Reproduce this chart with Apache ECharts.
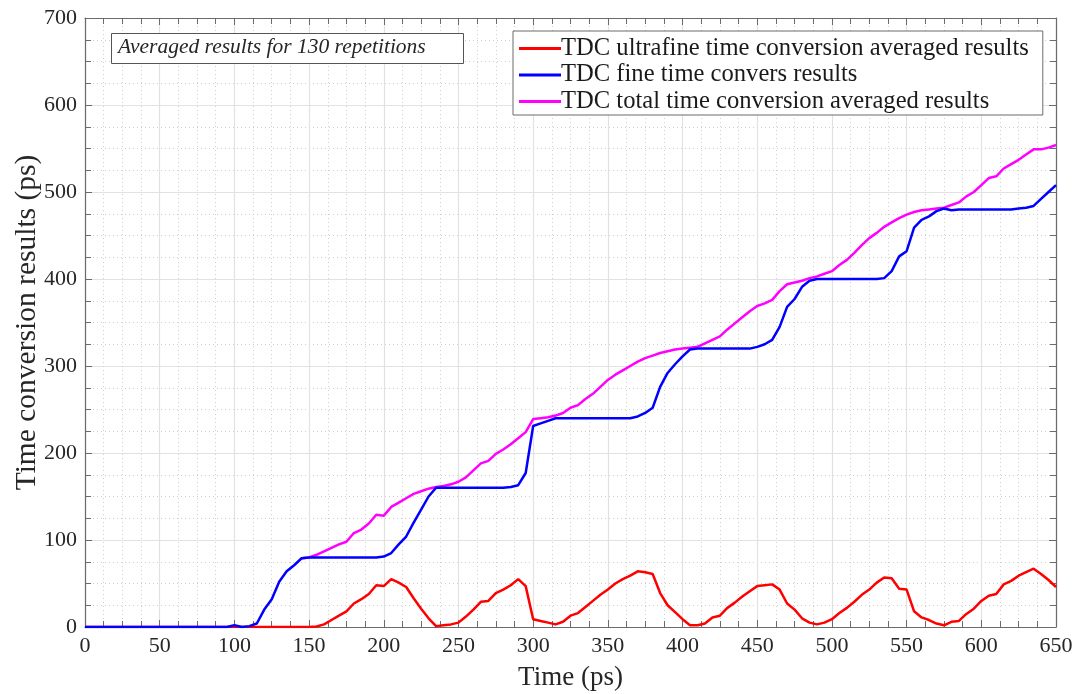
<!DOCTYPE html>
<html>
<head>
<meta charset="utf-8">
<script src="https://cdn.jsdelivr.net/npm/echarts@6/dist/echarts.min.js"></script>
<style>
  html, body { margin: 0; padding: 0; background: #fff; }
  #chart { width: 1080px; height: 694px; }
</style>
</head>
<body>
<div id="chart"></div>
<script>
// 时间采样点 (ps)
const timePs = [
    0, 5, 10, 15, 20, 25, 30, 35, 40, 45, 50, 55, 60, 65, 70, 75, 80, 85, 90, 95,
    100, 105, 110, 115, 120, 125, 130, 135, 140, 145, 150, 155, 160, 165, 170, 175, 180, 185, 190, 195,
    200, 205, 210, 215, 220, 225, 230, 235, 240, 245, 250, 255, 260, 265, 270, 275, 280, 285, 290, 295,
    300, 305, 310, 315, 320, 325, 330, 335, 340, 345, 350, 355, 360, 365, 370, 375, 380, 385, 390, 395,
    400, 405, 410, 415, 420, 425, 430, 435, 440, 445, 450, 455, 460, 465, 470, 475, 480, 485, 490, 495,
    500, 505, 510, 515, 520, 525, 530, 535, 540, 545, 550, 555, 560, 565, 570, 575, 580, 585, 590, 595,
    600, 605, 610, 615, 620, 625, 630, 635, 640, 645, 650
];

// 超精细时间转换平均结果
const ultrafineVals = [
    0, 0, 0, 0, 0, 0, 0, 0, 0, 0, 0, 0, 0, 0, 0, 0, 0, 0, 0, 0,
    0, 0, 0, 0, 0, 0, 0, 0, 0, 0, 0, 0.5, 3, 8, 13, 18, 27, 32, 38, 48,
    47, 55, 51, 46, 33, 21, 10, 1, 2, 3, 5, 12, 20, 29, 30, 39, 43, 48, 55, 47,
    9, 7, 5, 3, 6, 13, 16, 23, 30, 37, 43, 50, 55, 59, 64, 63, 61, 39, 25, 17,
    9, 2, 2, 4, 11, 13, 22, 28, 35, 41, 47, 48, 49, 43, 27, 20, 10, 5, 3, 5,
    9, 16, 22, 29, 37, 43, 51, 57, 56, 44, 43, 18, 11, 8, 4, 2, 6, 7, 15, 21,
    30, 36, 38, 49, 53, 59, 63, 67, 61, 54, 46
];

// 精细时间转换结果
const fineVals = [
    0, 0, 0, 0, 0, 0, 0, 0, 0, 0, 0, 0, 0, 0, 0, 0, 0, 0, 0, 0,
    2, 0, 1, 4, 20, 32, 52, 64, 71, 79, 80, 80, 80, 80, 80, 80, 80, 80, 80, 80,
    81, 85, 95, 104, 120, 135, 150, 160, 160, 160, 160, 160, 160, 160, 160, 160, 160, 161, 163, 177,
    231, 234, 237, 240, 240, 240, 240, 240, 240, 240, 240, 240, 240, 240, 242, 246, 252, 276, 292, 302,
    311, 319, 320, 320, 320, 320, 320, 320, 320, 320, 322, 325, 330, 345, 368, 377, 391, 398, 400, 400,
    400, 400, 400, 400, 400, 400, 400, 401, 409, 426, 432, 459, 468, 472, 478, 481, 479, 480, 480, 480,
    480, 480, 480, 480, 480, 481, 482, 484, 492, 500, 508
];

// 总时间转换平均结果 (145 ps 之前与蓝线重合)
const totalVals = [
    null, null, null, null, null, null, null, null, null, null, null, null, null, null, null, null, null, null, null, null,
    null, null, null, null, null, null, null, null, null, 79, 80, 83, 87, 91, 95, 98, 108, 112, 119, 129,
    128, 138, 143, 148, 153, 156, 159, 161, 162, 164, 167, 172, 180, 188, 191, 199, 204, 210, 217, 224,
    239, 240, 241, 243, 246, 252, 255, 262, 268, 276, 284, 290, 295, 300, 305, 309, 312, 315, 317, 319,
    320, 321, 322, 326, 330, 334, 342, 349, 356, 363, 369, 372, 376, 386, 394, 396, 398, 401, 403, 406,
    409, 416, 422, 430, 439, 447, 453, 460, 465, 470, 474, 477, 479, 480, 481, 482, 485, 488, 495, 500,
    508, 516, 518, 527, 532, 537, 543, 549, 549, 551, 554
];

const seriesNames = [
    'TDC ultrafine time conversion averaged results',
    'TDC fine time convers results',
    'TDC total time conversion averaged results'
];

const FONT = 'Liberation Serif';

function pairs(vals) {
    return timePs.map((t, i) => [t, vals[i]]);
}

function frameAxis(extra) {
    return Object.assign({
        type: 'value',
        axisLine: { show: true, onZero: false, lineStyle: { color: '#6b6b6b', width: 1.2 } },
        axisTick: { show: true, inside: true, length: 7, lineStyle: { color: '#6b6b6b' } },
        minorTick: { show: true, splitNumber: 4, length: 6, lineStyle: { color: '#6b6b6b' } },
        axisLabel: { show: false },
        splitLine: { show: false },
        minorSplitLine: { show: false }
    }, extra);
}

document.addEventListener('DOMContentLoaded', function() {
    const chart = echarts.init(document.getElementById('chart'));

    const option = {
        backgroundColor: '#ffffff',
        animation: false,
        grid: { left: 85, right: 24, top: 18, bottom: 67, containLabel: false, outerBoundsMode: 'none' },
        legend: {
            orient: 'vertical',
            left: 513,
            top: 31,
            padding: [5, 14, 1, 6],
            itemGap: 1.5,
            itemWidth: 42,
            itemHeight: 3,
            icon: 'rect',
            backgroundColor: '#ffffff',
            borderColor: '#6b6b6b',
            borderWidth: 1,
            textStyle: { fontFamily: FONT, fontSize: 24.6, lineHeight: 24, color: '#1a1a1a', padding: [0, 0, 0, -5] },
            data: seriesNames
        },
        xAxis: [
            frameAxis({
                min: 0, max: 650, interval: 50,
                name: 'Time (ps)',
                nameLocation: 'middle',
                nameGap: 37,
                nameTextStyle: { fontFamily: FONT, fontSize: 27, color: '#262626' },
                axisLabel: { show: true, margin: 8, fontFamily: FONT, fontSize: 22, color: '#262626' },
                splitLine: { show: true, lineStyle: { color: '#e2e2e2', width: 1.2 } },
                minorSplitLine: { show: true, lineStyle: { color: '#cfcfcf', type: [1, 3] } }
            }),
            frameAxis({ min: 0, max: 650, interval: 50, position: 'top' })
        ],
        yAxis: [
            frameAxis({
                min: 0, max: 700, interval: 100,
                name: 'Time conversion results (ps)',
                nameLocation: 'middle',
                nameMoveOverlap: false,
                nameGap: 43,
                nameTextStyle: { fontFamily: FONT, fontSize: 29.5, color: '#262626' },
                axisLabel: { show: true, margin: 8, fontFamily: FONT, fontSize: 22, color: '#262626' },
                splitLine: { show: true, lineStyle: { color: '#e2e2e2', width: 1.2 } },
                minorSplitLine: { show: true, lineStyle: { color: '#cfcfcf', type: [1, 3] } }
            }),
            frameAxis({ min: 0, max: 700, interval: 100, position: 'right' })
        ],
        graphic: [{
            type: 'rect',
            left: 111,
            top: 33,
            z: 100,
            shape: { width: 352, height: 30 },
            style: { fill: '#ffffff', stroke: '#555555', lineWidth: 1 }
        }, {
            type: 'text',
            left: 118,
            top: 36,
            z: 101,
            style: {
                text: 'Averaged results for 130 repetitions',
                fontFamily: FONT,
                fontStyle: 'italic',
                fontSize: 21.5,
                fill: '#262626'
            }
        }],
        series: [
            {
                name: seriesNames[2],
                type: 'line',
                data: pairs(totalVals),
                showSymbol: false,
                color: '#ff00ff',
                lineStyle: { width: 2.5 },
                z: 1
            },
            {
                name: seriesNames[0],
                type: 'line',
                data: pairs(ultrafineVals),
                showSymbol: false,
                color: '#ff0000',
                lineStyle: { width: 2.5 },
                z: 2
            },
            {
                name: seriesNames[1],
                type: 'line',
                data: pairs(fineVals),
                showSymbol: false,
                color: '#0000ff',
                lineStyle: { width: 2.5 },
                z: 3
            }
        ]
    };

    chart.setOption(option);
});
</script>
</body>
</html>
